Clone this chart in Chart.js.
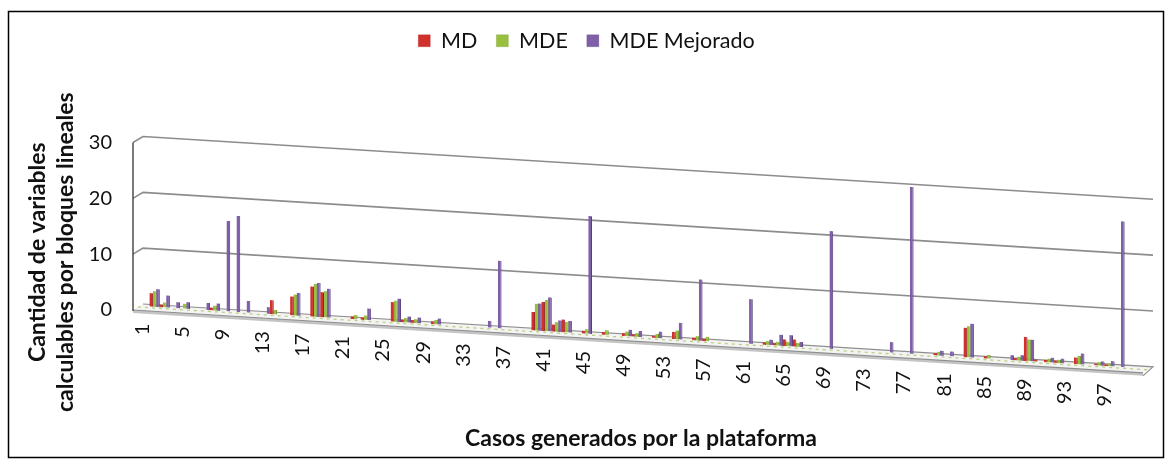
<!DOCTYPE html>
<html lang="es">
<head>
<meta charset="utf-8">
<title>Casos generados por la plataforma</title>
<script src="https://cdn.jsdelivr.net/npm/chart.js@4.4.1/dist/chart.umd.min.js"></script>
<style>
  html, body { margin: 0; padding: 0; background: #fff; }
  #wrap { width: 1172px; height: 468px; }
</style>
</head>
<body>
<div id="wrap"><canvas id="chart" width="1172" height="468"></canvas></div>
<script>
// Case numbers 1..100
const categories = [
  '1','2','3','4','5','6','7','8','9','10','11','12','13','14','15','16','17','18','19','20',
  '21','22','23','24','25','26','27','28','29','30','31','32','33','34','35','36','37','38','39','40',
  '41','42','43','44','45','46','47','48','49','50','51','52','53','54','55','56','57','58','59','60',
  '61','62','63','64','65','66','67','68','69','70','71','72','73','74','75','76','77','78','79','80',
  '81','82','83','84','85','86','87','88','89','90','91','92','93','94','95','96','97','98','99','100'
];

const seriesNames = ['MD', 'MDE', 'MDE Mejorado'];

const md = [
  2.5, 0.6, 0, 0, 0, 0, 0.6, 0, 0, 0,
  0, 0, 2.6, 0, 3.5, 0, 5.5, 4.6, 0, 0,
  0.6, 0.5, 0, 0, 3.6, 0.6, 0.6, 0, 0.6, 0,
  0, 0, 0, 0, 0, 0, 0, 0, 3.4, 5.3,
  1.4, 2.4, 0, 0.6, 0, 0.6, 0, 0.6, 0.5, 0,
  0.5, 0, 1.4, 0, 0.6, 0.5, 0, 0, 0, 0,
  0, 0.5, 0.5, 1.3, 1.4, 0, 0, 0, 0, 0,
  0, 0, 0, 0, 0, 0, 0, 0, 0.5, 0,
  0, 5.4, 0, 0.5, 0, 0, 0.5, 4.4, 0.5, 0.5,
  0.5, 0, 1.3, 0, 0.4, 0.4, 0, 0, 0, 0
];

const mde = [
  2.9, 1.0, 0, 1.0, 0, 0, 1.0, 0, 0, 0,
  0, 0, 0.9, 0, 3.9, 0, 6.0, 4.8, 0, 0,
  0.9, 0.9, 0, 0, 3.9, 0.9, 0.8, 0, 0.9, 0,
  0, 0, 0, 0, 0, 0, 0, 0, 4.9, 5.7,
  1.85, 2.0, 0, 0.9, 0, 0.95, 0, 0.95, 0.75, 0,
  0.85, 0, 1.7, 0, 0.9, 0.9, 0, 0, 0, 0,
  0, 0.8, 0.8, 0.9, 0.8, 0, 0, 0, 0, 0,
  0, 0, 0, 0, 0, 0, 0, 0, 0.8, 0,
  0, 5.7, 0, 0.8, 0, 0, 0.8, 4.0, 0, 0.8,
  0.7, 0, 1.6, 0, 0.7, 0.6, 0, 0, 0, 0
];

const mdeMejorado = [
  3.3, 2.3, 1.2, 1.3, 0, 1.4, 1.4, 16.3, 17.3, 2.2,
  0, 1.3, 0, 0, 4.2, 0, 6.2, 5.3, 0, 0,
  0, 2.2, 0, 0, 4.3, 1.2, 1.15, 0, 1.2, 0,
  0, 0, 0, 1.3, 12.2, 0, 0, 0, 5.0, 6.2,
  2.2, 2.2, 0, 21.2, 0, 0, 0, 1.3, 1.2, 0,
  1.3, 0, 3.1, 0, 11.1, 0, 0, 0, 0, 8.1,
  0, 1.1, 2.1, 2.1, 1.0, 0, 0, 21.2, 0, 0,
  0, 0, 0, 2.0, 0, 30, 0, 0, 1.0, 1.0,
  0, 6.2, 0, 0, 0, 1.0, 1.1, 4.0, 0, 1.0,
  0.95, 0, 2.1, 0, 0.9, 1.05, 26.2, 0, 0, 0
];

const yTicks = [0, 10, 20, 30];
const labelEvery = 4;

// Perspective of the floor and walls
const SLOPE = 0.0622;          // the floor falls away to the right
const WALL_DX = 10, WALL_DY = -6;   // back wall sits behind the front plane
const BAR_DX = 16.6, BAR_DY = -4, BAR_SCALE = 1.003;
const FLOOR_EXTRA = 8;
const LABEL_SHIFT = 4.5;
const Y_TITLE_DROP = 26;
const X_TITLE_SHIFT = 7;
const LEGEND_SHIFT = 12;

Chart.defaults.font.family = "Lato, 'Open Sans', 'DejaVu Sans', sans-serif";
Chart.defaults.color = '#111';

// Category axis whose labels follow the sloping floor
class SlantCategoryScale extends Chart.CategoryScale {
  _computeLabelItems(chartArea) {
    const items = super._computeLabelItems(chartArea);
    const left = this.left;
    items.forEach(it => {
      const t = it.options.translation;
      t[1] += SLOPE * (t[0] - left);
      t[0] += LABEL_SHIFT;
    });
    return items;
  }
  drawTitle() {
    this.ctx.save();
    this.ctx.translate(X_TITLE_SHIFT, 0);
    super.drawTitle();
    this.ctx.restore();
  }
}
SlantCategoryScale.id = 'slantCategory';
SlantCategoryScale.defaults = Chart.CategoryScale.defaults;

// Value axis that draws a receding floor, the front axis line and back-wall grid lines
class SlantLinearScale extends Chart.LinearScale {
  drawGrid() {
    const ctx = this.ctx;
    const { left, right, top } = this.chart.chartArea;
    const xEnd = right + FLOOR_EXTRA;
    const front = (x, y) => [x, y + SLOPE * (x - left)];
    const back = (x, y) => [x + WALL_DX, y + WALL_DY + SLOPE * (x - left)];
    const y0 = this.getPixelForValue(0);
    ctx.save();

    // floor slab
    const fl = front(left, y0), fr = front(xEnd, y0), br = back(xEnd, y0), bl = back(left, y0);
    ctx.beginPath();
    ctx.moveTo(fl[0], fl[1]); ctx.lineTo(fr[0], fr[1]); ctx.lineTo(br[0], br[1]); ctx.lineTo(bl[0], bl[1]);
    ctx.closePath();
    ctx.fillStyle = '#f4f4f4';
    ctx.fill();
    ctx.beginPath();
    ctx.moveTo(fl[0], fl[1]); ctx.lineTo(fr[0], fr[1]); ctx.lineTo(fr[0], fr[1] + 3); ctx.lineTo(fl[0], fl[1] + 3);
    ctx.closePath();
    ctx.fillStyle = '#c4c4c4';
    ctx.fill();
    ctx.strokeStyle = '#8f8f8f';
    ctx.lineWidth = 1.2;
    ctx.beginPath();
    ctx.moveTo(bl[0], bl[1]); ctx.lineTo(br[0], br[1]); ctx.lineTo(fr[0], fr[1] + 3);
    ctx.moveTo(fl[0], fl[1]); ctx.lineTo(fr[0], fr[1]);
    ctx.stroke();

    // dashed seam on the floor
    const ml = [(fl[0] + bl[0]) / 2, (fl[1] + bl[1]) / 2];
    const mr = [(fr[0] + br[0]) / 2, (fr[1] + br[1]) / 2];
    ctx.setLineDash([3, 4]);
    ctx.strokeStyle = '#b9d17f';
    ctx.lineWidth = 1.3;
    ctx.beginPath();
    ctx.moveTo(ml[0], ml[1]); ctx.lineTo(mr[0], mr[1]);
    ctx.stroke();
    ctx.setLineDash([]);

    // back wall grid lines
    ctx.strokeStyle = '#8c8c8c';
    ctx.lineWidth = 1.6;
    this.ticks.forEach(t => {
      if (t.value === 0) return;
      const y = this.getPixelForValue(t.value);
      const b1 = back(left, y), b2 = back(xEnd, y);
      ctx.beginPath();
      ctx.moveTo(left, y);
      ctx.lineTo(b1[0], b1[1]);
      ctx.lineTo(b2[0], b2[1]);
      ctx.stroke();
    });

    // front vertical axis line
    ctx.strokeStyle = '#4d4d4d';
    ctx.lineWidth = 1.5;
    ctx.beginPath();
    ctx.moveTo(left, top);
    ctx.lineTo(left, y0 + 1);
    ctx.stroke();
    ctx.restore();
  }
  drawTitle() {
    this.ctx.save();
    this.ctx.translate(0, Y_TITLE_DROP);
    super.drawTitle();
    this.ctx.restore();
  }
}
SlantLinearScale.id = 'slantLinear';
SlantLinearScale.defaults = Chart.LinearScale.defaults;

Chart.register(SlantCategoryScale, SlantLinearScale);

// Outer frame of the figure
const frame = {
  id: 'frame',
  beforeDraw(chart) {
    const c = chart.ctx;
    c.save();
    c.fillStyle = '#fff';
    c.fillRect(0, 0, chart.width, chart.height);
    c.strokeStyle = '#000';
    c.lineWidth = 1.5;
    c.strokeRect(8.5, 11.5, chart.width - 17, chart.height - 22);
    c.restore();
  }
};

// Legend sits centred over the whole figure rather than the padded box
const legendNudge = {
  id: 'legendNudge',
  afterLayout(chart) {
    if (chart.legend) {
      chart.legend.left += LEGEND_SHIFT;
      chart.legend.right += LEGEND_SHIFT;
    }
  }
};

// Columns stand on the floor, a little behind the front edge
const barDepth = {
  id: 'barDepth',
  beforeDatasetsDraw(chart) {
    const c = chart.ctx;
    const left = chart.chartArea.left;
    const e = left + BAR_DX - BAR_SCALE * left;
    c.save();
    c.transform(BAR_SCALE, SLOPE * BAR_SCALE, 0, 1, e, BAR_DY + SLOPE * (e - left));
  },
  afterDatasetsDraw(chart) {
    chart.ctx.restore();
  }
};

const colors = [
  { fill: '#d2302c', side: '#931f1c' },
  { fill: '#98c03e', side: '#6a8a26' },
  { fill: '#7f5fa8', side: '#55407a' }
];
const values = [md, mde, mdeMejorado];

new Chart(document.getElementById('chart'), {
  type: 'bar',
  data: {
    labels: categories,
    datasets: values.map((v, i) => ({
      label: seriesNames[i],
      data: v,
      backgroundColor: colors[i].fill,
      borderColor: colors[i].side,
      borderWidth: { right: 1, left: 0, top: 0, bottom: 0 },
      borderSkipped: false,
      categoryPercentage: 1,
      barPercentage: 1.12,
      clip: false
    }))
  },
  options: {
    responsive: false,
    animation: false,
    devicePixelRatio: 1,
    layout: { padding: { top: 11, left: 14, right: 37, bottom: 14 } },
    scales: {
      x: {
        type: 'slantCategory',
        position: 'bottom',
        grid: { display: false, drawTicks: false },
        border: { display: false },
        ticks: {
          autoSkip: false,
          minRotation: 90,
          maxRotation: 90,
          padding: 14,
          font: { size: 20 },
          color: '#111',
          callback(value, index) {
            return index % labelEvery === 0 ? this.getLabelForValue(value) : '';
          }
        },
        title: {
          display: true,
          text: 'Casos generados por la plataforma',
          font: { size: 23, weight: 'bold' },
          color: '#111',
          padding: { top: 0, bottom: 2 }
        },
        afterFit(scale) { scale.height = 144; }
      },
      headroom: {
        type: 'category',
        position: 'top',
        display: true,
        grid: { display: false, drawTicks: false },
        border: { display: false },
        ticks: { display: false },
        afterFit(scale) { scale.height = 81; }
      },
      y: {
        type: 'slantLinear',
        position: 'left',
        min: yTicks[0],
        max: yTicks[yTicks.length - 1],
        afterBuildTicks(scale) { scale.ticks = yTicks.map(v => ({ value: v })); },
        grid: { drawTicks: false },
        border: { display: false },
        ticks: { padding: 21, font: { size: 20 }, color: '#111' },
        title: {
          display: true,
          text: ['Cantidad de variables', 'calculables por bloques lineales'],
          font: { size: 23, weight: 'bold' },
          color: '#111',
          padding: { top: 10, bottom: 0 }
        },
        afterFit(scale) { scale.width = 119; }
      }
    },
    plugins: {
      legend: {
        position: 'top',
        labels: {
          boxWidth: 12,
          boxHeight: 12,
          padding: 19,
          font: { size: 21.5 },
          color: '#111'
        }
      },
      tooltip: { enabled: false }
    }
  },
  plugins: [frame, legendNudge, barDepth]
});
</script>
</body>
</html>
